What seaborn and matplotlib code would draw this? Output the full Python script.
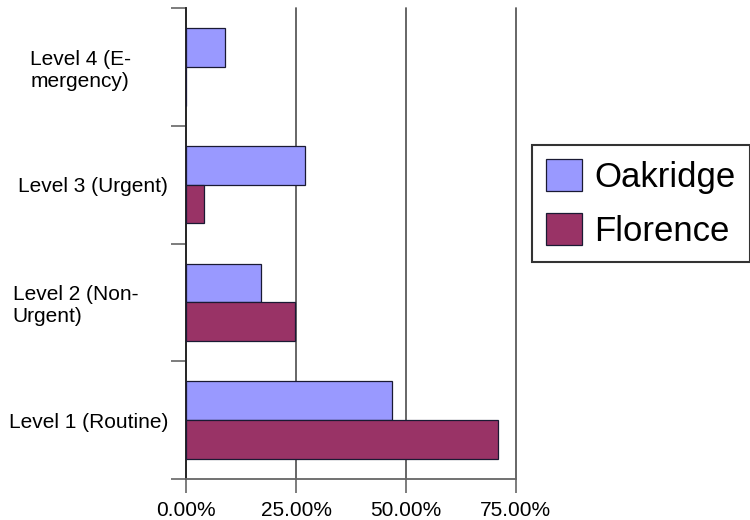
import matplotlib
matplotlib.use("Agg")
import matplotlib.pyplot as plt
import matplotlib.transforms as mtransforms
import seaborn as sns
import pandas as pd
from matplotlib.ticker import FixedLocator, FuncFormatter

# data (percent of cases)
categories = ["Level 4 (E-\nmergency)", "Level 3 (Urgent)",
              "Level 2 (Non-\nUrgent)", "Level 1 (Routine)"]
oakridge = [8.8, 27.0, 16.9, 46.9]
florence = [0.0, 4.0, 24.8, 71.0]
series_names = ["Oakridge", "Florence"]
x_ticks = [0, 25, 50, 75]

df = pd.DataFrame({
    "level": categories * 2,
    "value": oakridge + florence,
    "site": [series_names[0]] * len(categories) + [series_names[1]] * len(categories),
})

sns.set_style("white")
plt.rcParams["font.family"] = ["Liberation Sans", "DejaVu Sans"]
plt.rcParams["text.color"] = "black"
plt.rcParams["xtick.labelcolor"] = "black"
plt.rcParams["ytick.labelcolor"] = "black"

fig = plt.figure(figsize=(7.5, 5.2), dpi=100)
ax = fig.add_axes([0.2484, 0.0788, 0.4392, 0.9058])

palette = {"Oakridge": "#9999FF", "Florence": "#993366"}
sns.barplot(data=df, x="value", y="level", hue="site", order=categories,
            hue_order=series_names, palette=palette, orient="h", width=0.66,
            edgecolor="#1a1a33", linewidth=0.9, saturation=1, ax=ax, zorder=3)

ax.set_xlim(0, 75)
ax.set_ylim(3.5, -0.5)
ax.set_xlabel("")
ax.set_ylabel("")

# x axis: percent labels + vertical gridlines
ax.xaxis.set_major_locator(FixedLocator(x_ticks))
ax.xaxis.set_major_formatter(FuncFormatter(lambda v, p: f"{v:.2f}%"))
ax.tick_params(axis="x", which="major", direction="out", length=10, width=1.2,
               color="#666666", labelsize=15, pad=6, bottom=True, labelcolor="black")
ax.grid(axis="x", color="#5a5a5a", linewidth=1.3, zorder=0)
ax.grid(axis="y", visible=False)
for gl in ax.get_xgridlines():
    gl.set_clip_on(False)

# y axis: ticks on category boundaries, labels at centres
ax.yaxis.set_major_locator(FixedLocator([-0.5, 0.5, 1.5, 2.5, 3.5]))
ax.yaxis.set_major_formatter(FuncFormatter(lambda v, p: ""))
ax.yaxis.set_minor_locator(FixedLocator(range(len(categories))))
ax.set_yticklabels(categories, minor=True)
ax.tick_params(axis="y", which="major", direction="out", length=11, width=1.2,
               color="#666666", left=True)
ax.tick_params(axis="y", which="minor", length=0, labelsize=15, pad=13, labelcolor="black")

label_shift = {0: -37, 2: -30}
for i, lab in enumerate(ax.get_yticklabels(minor=True)):
    lab.set_multialignment("left")
    if i in label_shift:
        lab.set_transform(lab.get_transform() + mtransforms.ScaledTranslation(
            label_shift[i] / 100, 0, fig.dpi_scale_trans))

for side in ["top", "right"]:
    ax.spines[side].set_visible(False)
ax.spines["left"].set_color("#222222")
ax.spines["left"].set_linewidth(1.3)
ax.spines["bottom"].set_color("#666666")
ax.spines["bottom"].set_linewidth(1.3)

handles, labels = ax.get_legend_handles_labels()
leg = ax.legend(handles, labels, loc="center left", bbox_to_anchor=(532 / 750, 1 - 203.7 / 520),
                bbox_transform=fig.transFigure, fontsize=25, frameon=True, fancybox=False,
                edgecolor="black", borderpad=0.4, handlelength=1.05, handleheight=1.05,
                handletextpad=0.35, labelspacing=0.55, borderaxespad=0)
leg.get_frame().set_linewidth(1.5)
for t in leg.get_texts():
    t.set_color("black")

fig.savefig("out.png", dpi=100)
plt.close(fig)
